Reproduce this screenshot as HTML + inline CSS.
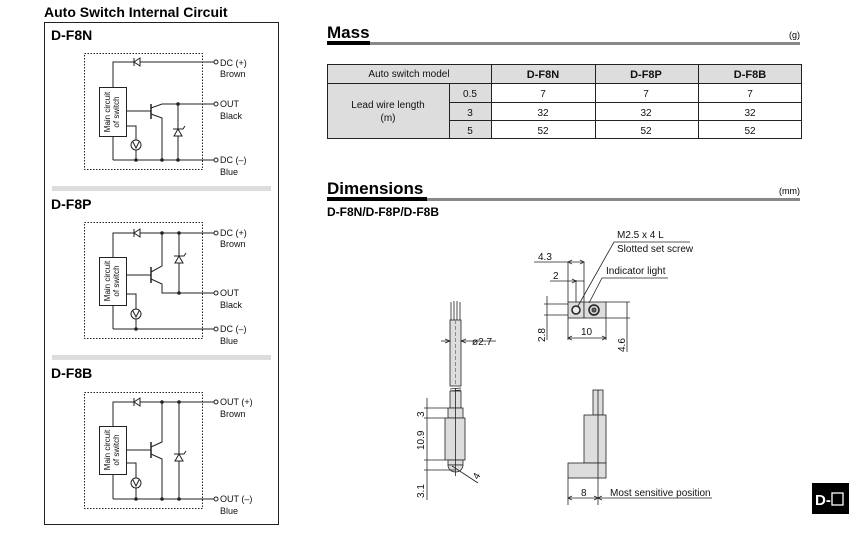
<!DOCTYPE html>
<html><head><meta charset="utf-8"><style>
html,body{margin:0;padding:0;background:#fff;}
svg{display:block;font-family:"Liberation Sans",Arial,sans-serif;}
</style></head><body>
<svg width="849" height="552" viewBox="0 0 849 552" xmlns="http://www.w3.org/2000/svg">
<!-- Left panel -->
<text x="44" y="17" font-size="14" font-weight="bold">Auto Switch Internal Circuit</text>
<rect x="44.5" y="22.5" width="234" height="502" fill="none" stroke="#222" stroke-width="1"/>
<rect x="52" y="186" width="219" height="5" fill="#ddd"/>
<rect x="52" y="355" width="219" height="5" fill="#ddd"/>
<text x="51" y="40" font-size="14" font-weight="bold">D-F8N</text>
<text x="51" y="209" font-size="14" font-weight="bold">D-F8P</text>
<text x="51" y="378" font-size="14" font-weight="bold">D-F8B</text>

<g stroke="#222" stroke-width="1" fill="none" font-size="9">
<!-- Circuit 1 D-F8N -->
<rect x="84.5" y="53.5" width="118" height="116" stroke-dasharray="1.5,1.5"/>
<polyline points="113,87 113,62 214,62"/>
<path d="M140,58 L134,62 L140,66 Z M134,58 V66" fill="#fff"/>
<rect x="99.5" y="87.5" width="27" height="49" fill="#fff"/>
<line x1="113" y1="136" x2="113" y2="160"/><line x1="113" y1="160" x2="214" y2="160"/>
<line x1="126" y1="111" x2="151" y2="111"/>
<line x1="151" y1="104" x2="151" y2="119" stroke-width="1.5"/>
<polyline points="151,108 162,104 214,104"/>
<polyline points="151,114 162,118 162,160"/>
<line x1="178" y1="104" x2="178" y2="160"/>
<path d="M174,136 L182,136 L178,129 Z" fill="#fff"/><path d="M173,129 H183 L185,126"/>
<polyline points="126,126 136,126 136,160"/>
<circle cx="136" cy="145" r="5" fill="#fff"/><path d="M133,142 L136,148 L139,142"/>
<circle cx="216" cy="62" r="2" fill="#fff"/><circle cx="216" cy="104" r="2" fill="#fff"/><circle cx="216" cy="160" r="2" fill="#fff"/>
<g fill="#222" stroke="none"><circle cx="178" cy="104" r="1.8"/><circle cx="136" cy="160" r="1.8"/><circle cx="162" cy="160" r="1.8"/><circle cx="178" cy="160" r="1.8"/></g>

<!-- Circuit 2 D-F8P -->
<rect x="84.5" y="222.5" width="118" height="116" stroke-dasharray="1.5,1.5"/>
<polyline points="113,257 113,233 214,233"/>
<path d="M140,229 L134,233 L140,237 Z M134,229 V237" fill="#fff"/>
<rect x="99.5" y="257.5" width="27" height="48" fill="#fff"/>
<line x1="113" y1="305" x2="113" y2="329"/><line x1="113" y1="329" x2="214" y2="329"/>
<line x1="126" y1="275" x2="151" y2="275"/>
<line x1="151" y1="267" x2="151" y2="283" stroke-width="1.5"/>
<polyline points="151,272 162,266 162,233"/>
<polyline points="151,279 162,284 162,293 214,293"/>
<line x1="179" y1="233" x2="179" y2="293"/>
<path d="M175,263 L183,263 L179,256 Z" fill="#fff"/><path d="M174,256 H184 L186,253"/>
<polyline points="126,294 136,294 136,329"/>
<circle cx="136" cy="314" r="5" fill="#fff"/><path d="M133,311 L136,317 L139,311"/>
<circle cx="216" cy="233" r="2" fill="#fff"/><circle cx="216" cy="293" r="2" fill="#fff"/><circle cx="216" cy="329" r="2" fill="#fff"/>
<g fill="#222" stroke="none"><circle cx="162" cy="233" r="1.8"/><circle cx="179" cy="233" r="1.8"/><circle cx="179" cy="293" r="1.8"/><circle cx="136" cy="329" r="1.8"/></g>

<!-- Circuit 3 D-F8B -->
<rect x="84.5" y="392.5" width="118" height="116" stroke-dasharray="1.5,1.5"/>
<polyline points="113,426 113,402 214,402"/>
<path d="M140,398 L134,402 L140,406 Z M134,398 V406" fill="#fff"/>
<rect x="99.5" y="426.5" width="27" height="48" fill="#fff"/>
<line x1="113" y1="474" x2="113" y2="499"/><line x1="113" y1="499" x2="214" y2="499"/>
<line x1="126" y1="450" x2="151" y2="450"/>
<line x1="151" y1="442" x2="151" y2="458" stroke-width="1.5"/>
<polyline points="151,447 162,442 162,402"/>
<polyline points="151,454 162,459 162,499"/>
<line x1="179" y1="402" x2="179" y2="499"/>
<path d="M175,461 L183,461 L179,454 Z" fill="#fff"/><path d="M174,454 H184 L186,451"/>
<polyline points="126,463 136,463 136,499"/>
<circle cx="136" cy="483" r="5" fill="#fff"/><path d="M133,480 L136,486 L139,480"/>
<circle cx="216" cy="402" r="2" fill="#fff"/><circle cx="216" cy="499" r="2" fill="#fff"/>
<g fill="#222" stroke="none"><circle cx="162" cy="402" r="1.8"/><circle cx="179" cy="402" r="1.8"/><circle cx="136" cy="499" r="1.8"/><circle cx="162" cy="499" r="1.8"/><circle cx="179" cy="499" r="1.8"/></g>
</g>

<g font-size="8" fill="#111">
<text transform="translate(110,112) rotate(-90)" text-anchor="middle">Main circuit</text>
<text transform="translate(119,112) rotate(-90)" text-anchor="middle">of switch</text>
<text transform="translate(110,281) rotate(-90)" text-anchor="middle">Main circuit</text>
<text transform="translate(119,281) rotate(-90)" text-anchor="middle">of switch</text>
<text transform="translate(110,450) rotate(-90)" text-anchor="middle">Main circuit</text>
<text transform="translate(119,450) rotate(-90)" text-anchor="middle">of switch</text>
</g>
<g font-size="9" fill="#111">
<text x="220" y="66">DC (+)</text><text x="220" y="77">Brown</text>
<text x="220" y="107">OUT</text><text x="220" y="119">Black</text>
<text x="220" y="163">DC (–)</text><text x="220" y="175">Blue</text>
<text x="220" y="236">DC (+)</text><text x="220" y="247">Brown</text>
<text x="220" y="296">OUT</text><text x="220" y="308">Black</text>
<text x="220" y="332">DC (–)</text><text x="220" y="344">Blue</text>
<text x="220" y="405">OUT (+)</text><text x="220" y="417">Brown</text>
<text x="220" y="502">OUT (–)</text><text x="220" y="514">Blue</text>
</g>

<!-- Mass -->
<text x="327" y="38" font-size="17" font-weight="bold">Mass</text>
<text x="800" y="38" font-size="9" text-anchor="end">(g)</text>
<rect x="370" y="42" width="430" height="3" fill="#888"/>
<rect x="327" y="41" width="43" height="4" fill="#000"/>
<rect x="327" y="64" width="164" height="75" fill="#ddd"/>
<rect x="491" y="64" width="311" height="19" fill="#ddd"/>
<g stroke="#222" stroke-width="1" fill="none">
<rect x="327.5" y="64.5" width="474" height="74"/>
<line x1="327" y1="83.5" x2="802" y2="83.5"/>
<line x1="449" y1="102.5" x2="802" y2="102.5"/>
<line x1="449" y1="120.5" x2="802" y2="120.5"/>
<line x1="449.5" y1="83" x2="449.5" y2="139"/>
<line x1="491.5" y1="64" x2="491.5" y2="139"/>
<line x1="595.5" y1="64" x2="595.5" y2="139"/>
<line x1="698.5" y1="64" x2="698.5" y2="139"/>
</g>
<g font-size="10" text-anchor="middle" fill="#111">
<text x="409" y="77">Auto switch model</text>
<text x="388" y="108">Lead wire length</text><text x="388" y="121">(m)</text>
<text x="470" y="97">0.5</text><text x="470" y="116">3</text><text x="470" y="134">5</text>
<text x="543" y="97">7</text><text x="646" y="97">7</text><text x="750" y="97">7</text>
<text x="543" y="116">32</text><text x="646" y="116">32</text><text x="750" y="116">32</text>
<text x="543" y="134">52</text><text x="646" y="134">52</text><text x="750" y="134">52</text>
<g font-size="11" font-weight="bold"><text x="543" y="78">D-F8N</text><text x="646" y="78">D-F8P</text><text x="750" y="78">D-F8B</text></g>
</g>

<!-- Dimensions -->
<text x="327" y="194" font-size="17" font-weight="bold">Dimensions</text>
<text x="800" y="194" font-size="9" text-anchor="end">(mm)</text>
<rect x="427" y="198" width="373" height="3" fill="#888"/>
<rect x="327" y="197" width="100" height="4" fill="#000"/>
<text x="327" y="216" font-size="12" font-weight="bold">D-F8N/D-F8P/D-F8B</text>

<g stroke="#222" stroke-width="0.8" fill="none">
<!-- left side view -->
<path d="M451,302 L451,320 M454,301 L454,320 M457,301 L457,320 M460,302 L460,320"/>
<rect x="450" y="320" width="11" height="66" fill="#ddd"/>
<line x1="455.5" y1="320" x2="455.5" y2="386" stroke="#777" stroke-dasharray="4,2"/>
<path d="M450,389 L461,388 M450,391 L461,390"/>
<rect x="450" y="391" width="11" height="17" fill="#ddd"/>
<rect x="448" y="408" width="15" height="10" fill="#ddd"/>
<rect x="445" y="418" width="20" height="42" fill="#ddd"/>
<rect x="448" y="460" width="15" height="5" fill="#ddd"/>
<path d="M448,465 A7.5,7 0 0 0 463,465 Z" fill="#ddd"/>
<line x1="455.5" y1="388" x2="455.5" y2="476"/>
<line x1="441" y1="341" x2="450" y2="341"/><line x1="461" y1="341" x2="496" y2="341"/>
<path d="M445,339 L450,341 L445,343 M466,339 L461,341 L466,343"/>
<line x1="424" y1="408" x2="448" y2="408"/><line x1="424" y1="418" x2="445" y2="418"/>
<line x1="424" y1="460" x2="445" y2="460"/><line x1="424" y1="470" x2="455" y2="470"/>
<line x1="427" y1="398" x2="427" y2="500"/>
<line x1="452" y1="466" x2="478" y2="483"/>
<!-- top view -->
<rect x="568" y="302" width="16" height="16" fill="#ddd"/>
<rect x="584" y="302" width="22" height="16" fill="#ddd"/>
<circle cx="576" cy="310" r="4" stroke-width="1.5" fill="#eee"/>
<circle cx="594" cy="310" r="5" stroke-width="1.5" fill="#ccc"/>
<circle cx="594" cy="310" r="2" fill="#666"/>
<line x1="568" y1="262" x2="568" y2="302"/><line x1="584" y1="262" x2="584" y2="302"/>
<line x1="576" y1="280" x2="576" y2="302"/>
<line x1="534" y1="262" x2="584" y2="262"/><line x1="550" y1="281" x2="584" y2="281"/>
<path d="M572,260 L568,262 L572,264 M580,260 L584,262 L580,264 M572,279 L576,281 L572,283"/>
<line x1="544" y1="304" x2="568" y2="304"/><line x1="544" y1="315" x2="568" y2="315"/>
<line x1="547" y1="296" x2="547" y2="340"/>
<line x1="606" y1="302" x2="630" y2="302"/><line x1="606" y1="318" x2="630" y2="318"/>
<line x1="627" y1="302" x2="627" y2="352"/>
<line x1="568" y1="318" x2="568" y2="340"/><line x1="606" y1="318" x2="606" y2="340"/>
<line x1="568" y1="338" x2="606" y2="338"/>
<path d="M572,336 L568,338 L572,340 M602,336 L606,338 L602,340"/>
<polyline points="578,306 614,242 690,242"/>
<polyline points="589,303 602,278 668,278"/>
<!-- front view -->
<rect x="593" y="390" width="10" height="25" fill="#ddd"/>
<rect x="584" y="415" width="22" height="48" fill="#ddd"/>
<rect x="568" y="463" width="38" height="15" fill="#ddd"/>
<line x1="598" y1="390" x2="598" y2="505"/>
<line x1="568" y1="478" x2="568" y2="505"/>
<line x1="568" y1="498" x2="712" y2="498"/>
<path d="M572,496 L568,498 L572,500 M594,496 L598,498 L594,500 M602,496 L598,498 L602,500"/>
</g>
<g font-size="10" fill="#111">
<text x="472" y="345">ø2.7</text>
<text x="538" y="260">4.3</text>
<text x="553" y="279">2</text>
<text x="581" y="335">10</text>
<text x="617" y="238">M2.5 x 4 L</text>
<text x="617" y="252">Slotted set screw</text>
<text x="606" y="274">Indicator light</text>
<text x="581" y="496">8</text>
<text x="610" y="496">Most sensitive position</text>
<text transform="translate(545,342) rotate(-90)">2.8</text>
<text transform="translate(625,352) rotate(-90)">4.6</text>
<text transform="translate(424,417) rotate(-90)">3</text>
<text transform="translate(424,450) rotate(-90)">10.9</text>
<text transform="translate(424,498) rotate(-90)">3.1</text>
<text transform="translate(478,480) rotate(-60)">4</text>
</g>

<!-- D-□ tab -->
<rect x="812" y="483" width="37" height="31" fill="#000"/>
<text x="815" y="505" font-size="15" font-weight="bold" fill="#fff">D-</text>
<rect x="832" y="493" width="11" height="12" fill="none" stroke="#fff" stroke-width="1.3"/>
</svg>
</body></html>
